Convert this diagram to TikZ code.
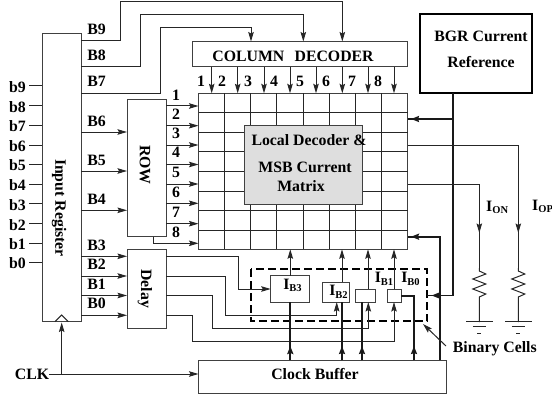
\documentclass[tikz,border=0pt]{standalone}
\usepackage{fontspec}
\setmainfont{Liberation Serif}
\usetikzlibrary{arrows.meta}
\tikzset{
  wire/.style={line width=1pt,draw=black!85},
  arr/.style={wire,-{Stealth[length=9.5pt,width=5.5pt,inset=1.5pt]}},
  heavy/.style={line width=1.9pt,draw=black!90},
  heavyarr/.style={heavy,-{Stealth[length=8pt,width=6pt,inset=1pt]}},
  blk/.style={draw=black!75,line width=1pt,inner sep=0pt,outer sep=0pt,rectangle},
  txt/.style={inner sep=0pt,font=\fontsize{15.8}{16}\selectfont\bfseries},
  dash box/.style={line width=1.7pt,draw=black,dash pattern=on 8pt off 4pt},
}
\newcommand{\blkat}[6][]{\node[blk,#1,minimum width={#4-#2},minimum height={#5-#3}] (#6) at ({(#2+#4)/2},{(#3+#5)/2}) {};}
\newcommand{\Isub}[1]{I{\fontsize{10.5}{10.5}\selectfont\raisebox{-2.5pt}{#1}}}
\begin{document}
\begin{tikzpicture}[x=1pt,y=-1pt]
\useasboundingbox (0,0) rectangle (552,396);
% blocks
\blkat{42}{34}{81.3}{321.7}{reg}
\blkat{127}{99.5}{166}{236.7}{row}
\blkat{127}{249.3}{166}{328}{dly}
\blkat{192}{41.5}{407.7}{67}{col}
\blkat{198.5}{93.3}{407.7}{249.3}{mat}
\blkat[draw=black,line width=1.9pt]{420.3}{14.3}{532}{93}{bgr}
\blkat{198.5}{360.3}{446.7}{393.3}{buf}
% grid
\foreach \gx in {224.7,250.7,276.7,303.3,329.3,355.3,381.7}
  \draw[wire] (mat.north -| \gx,0) -- (mat.south -| \gx,0);
\foreach \gy in {112.7,132,151.7,171,191,210.4,230}
  \draw[wire] (mat.west |- 0,\gy) -- (mat.east |- 0,\gy);
\blkat[fill=black!13]{244.5}{125.7}{362}{204}{core}
% text in blocks
\node[txt,rotate=-90] (regt) at (59,208) {Input Register};
\node[txt,rotate=-90] (rowt) at (145,165) {ROW};
\node[txt,rotate=-90] (dlyt) at (145,288.7) {Delay};
\node[txt] (colt) at (293,56) {COLUMN\hspace{0.4em} DECODER};
\node[txt] (bgr1) at (481,36) {BGR Current};
\node[txt] (bgr2) at (481,62) {Reference};
\node[txt] (c1) at (309,140) {Local Decoder \&};
\node[txt] (c2) at (305,167) {MSB Current};
\node[txt] (c3) at (301,186) {Matrix};
\node[txt] (buft) at (315,374) {Clock Buffer};
% input pins
\foreach \nm/\ly/\py in {b9/87/86,b8/107/106,b7/126/125.7,b6/146/145,b5/165.5/164.7,b4/185/184,b3/205.5/203.3,b2/224.7/223.3,b1/244/243,b0/263/262.7}{
  \node[txt,anchor=east] (l\nm) at (26,\ly) {\nm};
  \coordinate (p\nm) at (29,\py);
  \draw[wire] (p\nm) -- (reg.west |- p\nm);
}
% register outputs
\foreach \nm/\ly/\py in {B6/121/132,B5/160/171,B4/199/210.3}{
  \node[txt] (l\nm) at (96.5,\ly) {\nm};
  \draw[arr] (reg.east |- 0,\py) -- (row.west |- 0,\py);
}
\foreach \nm/\ly/\py in {B3/245/256.3,B2/264/276,B1/284/295.5,B0/303/315.3}{
  \node[txt] (l\nm) at (96.5,\ly) {\nm};
  \draw[arr] (reg.east |- 0,\py) -- (dly.west |- 0,\py);
}
\node[txt] (lB9) at (96.5,29) {B9};
\node[txt] (lB8) at (96.5,55) {B8};
\node[txt] (lB7) at (96.5,81) {B7};
\draw[arr] (reg.east |- 0,41) -- (120,41) -- (120,2) -- (342.3,2) -- (col.north -| 342.3,0);
\draw[arr] (reg.east |- 0,67) -- (140,67) -- (140,14.7) -- (303.3,14.7) -- (col.north -| 303.3,0);
\draw[arr] (reg.east |- 0,93.3) -- (160,93.3) -- (160,28) -- (251,28) -- (col.north -| 251,0);
% column arrows
\foreach \ax/\lx [count=\i] in {211.7/201,237.7/222,264/248,290/274,316/300,342.3/326,368/352,394/378}{
  \draw[arr] (col.south -| \ax,0) -- (mat.north -| \ax,0);
  \node[txt] (cl\i) at (\lx,81) {\i};
}
% row arrows
\foreach \ay/\ly [count=\i] in {106/95,125.7/114,145/133,164.5/152,184/172,203.3/192,223.7/212}{
  \draw[arr] (row.east |- 0,\ay) -- (mat.west |- 0,\ay);
  \node[txt] (rl\i) at (176,\ly) {\i};
}
\node[txt] (rl8) at (176,232) {8};
\draw[arr] (row.south -| 153,0) -- (153,243.3) -- (mat.west |- 0,243.3);
% binary cells
\draw[dash box] (251,269.3) rectangle (427.3,321.3);
\coordinate (dashr) at (427.3,295.5);
\blkat[fill=white]{270.7}{275.7}{309.7}{302}{ib3}
\blkat[fill=white]{322.7}{282.3}{349}{302}{ib2}
\blkat[fill=white]{355.3}{289}{375.3}{302}{ib1}
\blkat[fill=white]{387.7}{289}{401.3}{302}{ib0}
\node[txt] (tb3) at (292.5,285.5) {\Isub{B3}};
\node[txt] (tb2) at (338.5,291.7) {\Isub{B2}};
\node[txt] (tb1) at (384,279) {\Isub{B1}};
\node[txt] (tb0) at (410.5,279) {\Isub{B0}};
% delay outputs
\draw[arr] (dly.east |- 0,256.3) -- (238,256.3) -- (238,289) -- (ib3.west |- 0,289);
\draw[arr] (dly.east |- 0,276) -- (225,276) -- (225,315.3) -- (336.7,315.3) -- (ib2.south -| 336.7,0);
\draw[arr] (dly.east |- 0,295.5) -- (212,295.5) -- (212,328.3) -- (368.3,328.3) -- (ib1.south -| 368.3,0);
\draw[arr] (dly.east |- 0,315.3) -- (192,315.3) -- (192,341.3) -- (394,341.3) -- (ib0.south -| 394,0);
% cells to matrix
\draw[arr] (ib3.north -| 290.3,0) -- (mat.south -| 290.3,0);
\draw[arr] (ib2.north -| 342,0) -- (mat.south -| 342,0);
\draw[arr] (ib1.north -| 368,0) -- (mat.south -| 368,0);
\draw[arr] (ib0.north -| 394,0) -- (mat.south -| 394,0);
% clock lines
\foreach \cx/\cb in {290.3/ib3,342/ib2,362/ib1}{
  \draw[heavy] (buf.north -| \cx,0) -- (\cb.south -| \cx,0);
  \draw[heavyarr] (buf.north -| \cx,0) -- (\cx,346);
}
\draw[heavy] (buf.north -| 414,0) -- (414,295.7) -- (ib0.east |- 0,295.7);
\draw[heavyarr] (buf.north -| 414,0) -- (414,346);
% reference lines
\draw[heavy] (bgr.south -| 453.3,0) -- (453.3,295.5) -- (dashr);
\draw[heavyarr] (453.3,295.5) -- (431.5,295.5);
\draw[heavy] (453.3,119) -- (mat.east |- 0,119);
\draw[heavyarr] (453.3,119) -- (411,119);
\draw[heavy] (buf.north -| 440,0) -- (440,236.7) -- (mat.east |- 0,236.7);
\draw[heavyarr] (440,236.7) -- (411,236.7);
% outputs
\coordinate (ron) at (479.3,268);
\coordinate (rop) at (518.3,268);
\draw[wire] (mat.east |- 0,184) -- (479.3,184) -- (ron);
\draw[arr] (479.3,184) -- (479.3,233);
\draw[wire] (mat.east |- 0,145) -- (518.3,145) -- (rop);
\draw[arr] (518.3,145) -- (518.3,233);
\node[txt,anchor=west] (ion) at (486,207.5) {\Isub{ON}};
\node[txt,anchor=west] (iop) at (532,206.5) {\Isub{OP}};
\foreach \rn in {ron,rop}{
  \draw[wire] (\rn) -- ++(0,3) -- ++(6.5,3) -- ++(-13,5) -- ++(13,5) -- ++(-13,5) -- ++(13,5) -- ++(-6.5,3) -- ++(0,25);
  \draw[wire] ([shift={(-13.3,53.7)}]\rn) -- ++(26.6,0);
  \draw[wire] ([shift={(-6.5,58.7)}]\rn) -- ++(13,0);
  \draw[wire] ([shift={(-2,65)}]\rn) -- ++(4,0);
}
% binary cells label
\node[txt,anchor=west] (bc) at (452.7,349) {Binary Cells};
\coordinate (bct) at (423,324);
\draw[arr] (446,346) -- (bct);
% clock
\node[txt] (clk) at (32,374) {CLK};
\draw[arr] (clk.east) -- (buf.west |- clk.east);
\draw[arr] (61.7,374) -- (61.7,322.5);
\draw[wire] (55,321.7) -- (61.7,315) -- (68.4,321.7);
\end{tikzpicture}
\end{document}
